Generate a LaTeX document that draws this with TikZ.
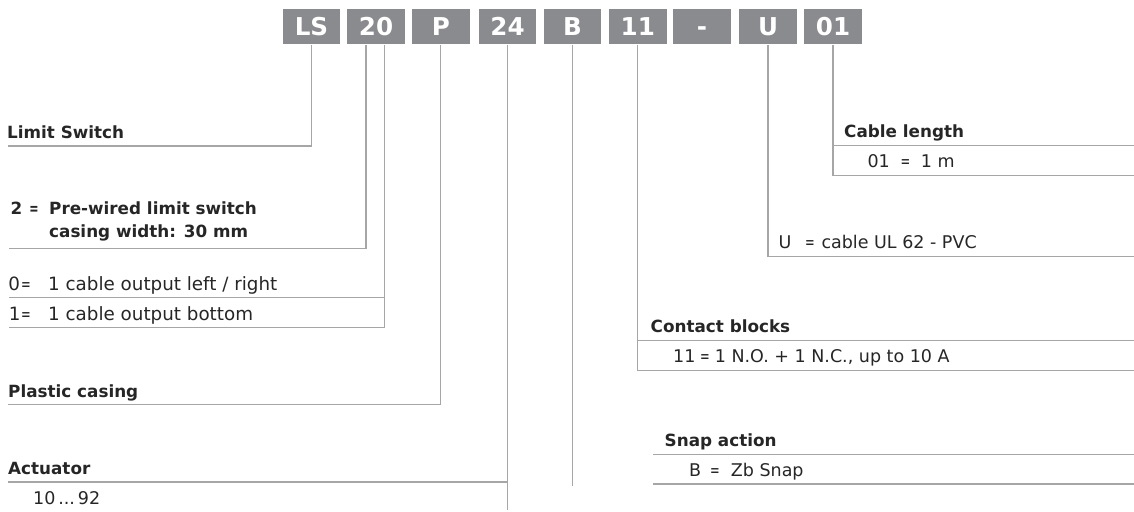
\documentclass[tikz,border=0pt]{standalone}
\usepackage{graphicx}
\usepackage{fontspec}
\setmainfont{DejaVu Sans}
\definecolor{boxgray}{HTML}{8A8B8E}
\definecolor{linegray}{HTML}{A6A6A6}
\definecolor{txtgray}{HTML}{262626}
\newcommand{\narroweq}{\scalebox{0.66}[1]{=}}
\begin{document}
\begin{tikzpicture}[x=1pt,y=-1pt,
  codebox/.style={fill=boxgray, minimum width=57.5pt, minimum height=35.7pt, inner sep=0pt,
    text=white, text height=17.7pt, text depth=0pt, font=\fontsize{24.6}{24}\selectfont\bfseries},
  head/.style={anchor=base west, inner sep=0pt, text=txtgray, font=\fontsize{16.8}{20}\selectfont\bfseries},
  heq/.style={head, anchor=base},
  body/.style={anchor=base west, inner sep=0pt, text=txtgray, font=\fontsize{17.5}{20}\selectfont},
  bodyL/.style={body, font=\fontsize{18.3}{20}\selectfont},
  beq/.style={body, anchor=base},
  conn/.style={draw=linegray, line width=1.2pt}]
\useasboundingbox (0,0) rectangle (1134,511);
% code boxes
\node[codebox] (bLS) at (311.5,26.5) {LS};
\node[codebox] (b20) at (376,26.5) {20};
\node[codebox] (bP) at (440.8,26.5) {P};
\node[codebox] (b24) at (507.5,26.5) {24};
\node[codebox] (bB) at (572.5,26.5) {B};
\node[codebox] (b11) at (637.8,26.5) {11};
\node[codebox] (bdash) at (702,26.5) {-};
\node[codebox] (bU) at (768,26.5) {U};
\node[codebox] (b01) at (833,26.5) {01};
% left texts
\node[head] (tLS) at (7,138.3) {Limit Switch};
\node[head] (t2n) at (10.5,214) {2};
\node[heq] (t2e) at (34,214) {\narroweq};
\node[head] (t2a) at (49,214) {Pre-wired limit switch};
\node[head] (t2b) at (49,237.7) {casing width: 30 mm};
\node[bodyL] (t0k) at (8.3,290) {0};
\node[beq] (t0e) at (26,290) {\narroweq};
\node[bodyL] (t0v) at (48,290) {1 cable output left / right};
\node[bodyL] (t1k) at (8.7,320) {1};
\node[beq] (t1e) at (26,320) {\narroweq};
\node[bodyL] (t1v) at (48,320) {1 cable output bottom};
\node[head] (tP) at (8,397.3) {Plastic casing};
\node[head] (tAct) at (8,474) {Actuator};
\node[body] (tAv) at (33,504) {10\,...\,92};
% right texts
\node[head] (tCL) at (844,137.3) {Cable length};
\node[body] (tCLk) at (867.3,167.7) {01};
\node[beq] (tCLe) at (905.5,167.7) {\narroweq};
\node[body] (tCLv) at (920.7,167.7) {1 m};
\node[body] (tUk) at (778.5,248.3) {U};
\node[beq] (tUe) at (810,248.3) {\narroweq};
\node[body] (tUv) at (821.3,248.3) {cable UL 62 - PVC};
\node[head] (tCB) at (650.5,332.3) {Contact blocks};
\node[body] (tCBk) at (673,362.3) {11};
\node[beq] (tCBe) at (705,362.3) {\narroweq};
\node[body] (tCBv) at (714.7,362.3) {1 N.O. + 1 N.C., up to 10 A};
\node[head] (tSA) at (664.5,446) {Snap action};
\node[body] (tSAk) at (689,476) {B};
\node[beq] (tSAe) at (715,476) {\narroweq};
\node[body] (tSAv) at (730.7,476) {Zb Snap};
% line end coordinates
\coordinate (eLS) at (8.3,146);
\coordinate (e20a) at (9.3,248.3);
\coordinate (e20b) at (9.3,297.8);
\coordinate (e20c) at (9.3,327.5);
\coordinate (p20a) at ([xshift=-10pt]b20.south);
\coordinate (p20b) at ([xshift=8.5pt]b20.south);
\coordinate (eP) at (8.3,404.3);
\coordinate (eAct) at (8.3,482);
\coordinate (e24) at (0,510);
\coordinate (eB) at (0,485.7);
\coordinate (r01a) at (1134,145.7);
\coordinate (r01b) at (1134,175.7);
\coordinate (rU) at (1134,256.7);
\coordinate (r11a) at (1134,340.7);
\coordinate (r11b) at (1134,370.7);
\coordinate (sA1) at (653.3,454.3);
\coordinate (sA2) at (1134,454.3);
\coordinate (sB1) at (653.3,484);
\coordinate (sB2) at (1134,484);
% connectors
\draw[conn] (bLS.south) |- (eLS);
\draw[conn] (p20a) |- (e20a);
\draw[conn] (p20b) |- (e20c);
\draw[conn] (e20b) -- (e20b -| p20b);
\draw[conn] (bP.south) |- (eP);
\draw[conn] (b24.south) -- (b24.south |- e24);
\draw[conn] (eAct) -- (eAct -| b24.south);
\draw[conn] (bB.south) -- (bB.south |- eB);
\draw[conn] (b11.south) |- (r11b);
\draw[conn] (r11a -| b11.south) -- (r11a);
\draw[conn] (bU.south) |- (rU);
\draw[conn] (b01.south) |- (r01b);
\draw[conn] (r01a -| b01.south) -- (r01a);
\draw[conn] (sA1) -- (sA2);
\draw[conn] (sB1) -- (sB2);
\end{tikzpicture}
\end{document}
